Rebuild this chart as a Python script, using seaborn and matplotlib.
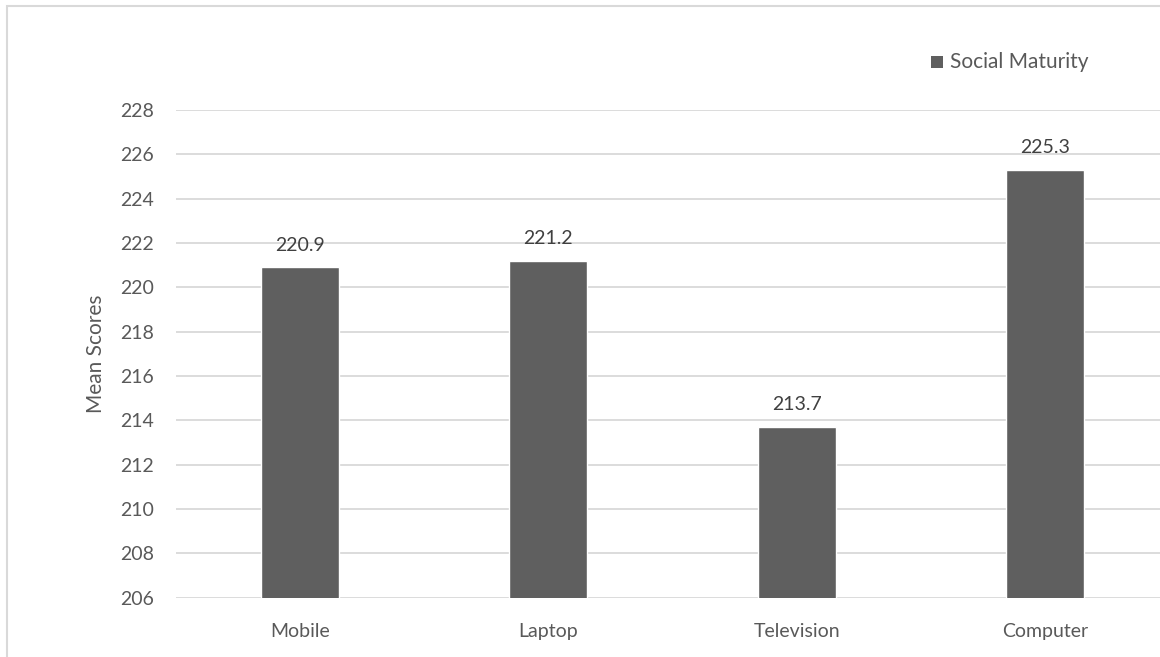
import matplotlib
matplotlib.use("Agg")
import matplotlib.pyplot as plt
import seaborn as sns
import pandas as pd
from matplotlib.patches import Rectangle

categories = ["Mobile", "Laptop", "Television", "Computer"]
values = [220.9, 221.2, 213.7, 225.3]
series_name = "Social Maturity"
y_ticks = [206, 208, 210, 212, 214, 216, 218, 220, 222, 224, 226, 228]

sns.set_theme(style="white")
plt.rcParams['font.family'] = ['Lato', 'DejaVu Sans']

W, H = 1160, 657
fig = plt.figure(figsize=(W / 100, H / 100), dpi=100)
fig.patch.set_facecolor("white")

# outer chart border (cropped at right/bottom)
fig.patches.append(Rectangle((7 / W, -0.1), 1.2, (H - 6) / H + 0.1, transform=fig.transFigure,
                             fill=False, edgecolor="#d9d9d9", linewidth=1.5))

left = 176 / W
right = 1169 / W
bottom = (H - 597.7) / H
top = (H - 110) / H
ax = fig.add_axes([left, bottom, right - left, top - bottom])

df = pd.DataFrame({"Category": categories, "Value": values, "Series": series_name})
bar_color = "#5f5f5f"
sns.barplot(data=df, x="Category", y="Value", hue="Series", palette=[bar_color],
            width=0.315, ax=ax, legend=False, zorder=3, saturation=1)

ax.set_ylim(206, 228)
ax.set_yticks(y_ticks)
ax.set_xlim(-0.5, len(categories) - 0.5)
for s in ax.spines.values():
    s.set_visible(False)
ax.yaxis.grid(True, color="#d9d9d9", linewidth=1.3, zorder=0)
ax.xaxis.grid(False)
ax.set_axisbelow(True)
ax.tick_params(axis="both", length=0, labelsize=14, colors="#595959")
ax.tick_params(axis="y", pad=16)
ax.tick_params(axis="x", pad=18)
ax.set_xlabel("")
ax.set_ylabel("Mean Scores", fontsize=15, color="#595959", labelpad=10)

for i, v in enumerate(values):
    ax.annotate(f"{v:.1f}", (i, v), xytext=(0, 10), textcoords="offset points",
                ha="center", va="bottom", fontsize=14, color="#404040")

# legend
fig.patches.append(Rectangle((931 / W, (H - 68) / H), 12 / W, 12 / H, transform=fig.transFigure,
                             facecolor=bar_color, edgecolor="none"))
fig.text(950 / W, (H - 62) / H, series_name, ha="left", va="center", fontsize=15, color="#595959")

fig.savefig("out.png", dpi=100)
